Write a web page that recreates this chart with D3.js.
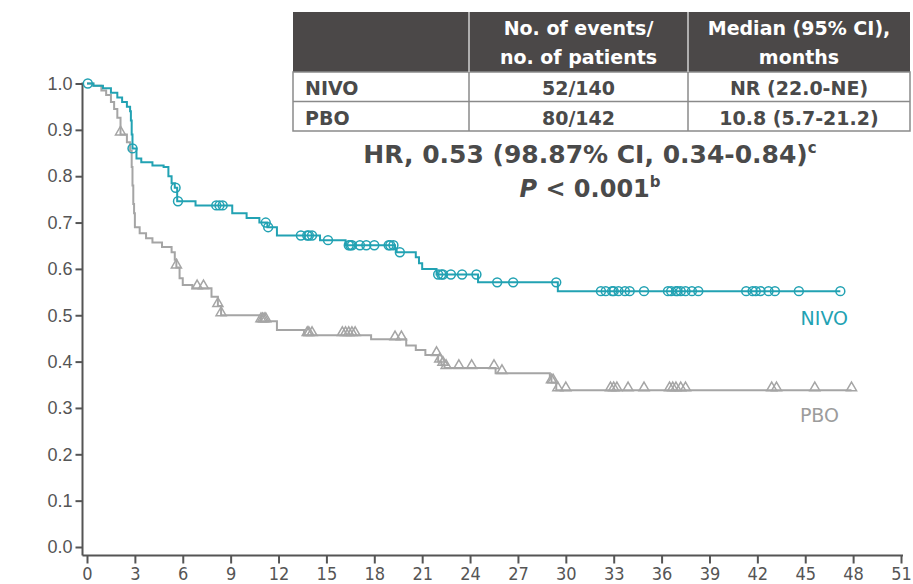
<!DOCTYPE html>
<html>
<head>
<meta charset="utf-8">
<script src="https://cdn.jsdelivr.net/npm/d3@7"></script>
<style>
  body { margin: 0; background: #fff; }
  svg { display: block; font-family: "DejaVu Sans", sans-serif; }
  .x-tick text { font-family: "DejaVu Sans Condensed", "DejaVu Sans", sans-serif; font-stretch: condensed; }
</style>
</head>
<body>
<svg id="chart" width="913" height="584"></svg>
<script>
// Kaplan-Meier steps: [month, survival after the drop]
var nivoSteps = [[0,1.0],[0.4,0.995],[1.0,0.99],[1.5,0.98],[1.9,0.97],[2.2,0.96],[2.5,0.95],
  [2.7,0.94],[2.75,0.92],[2.8,0.89],[2.85,0.86],[3.1,0.838],[3.4,0.83],[4.1,0.823],[4.8,0.82],
  [5.1,0.80],[5.3,0.785],[5.5,0.775],[5.65,0.746],[6.8,0.737],[9.1,0.72],[10.0,0.71],[10.8,0.70],
  [11.3,0.69],[11.9,0.672],[14.6,0.662],[16.2,0.651],[19.3,0.644],[19.4,0.636],[20.6,0.625],
  [20.8,0.612],[21.0,0.60],[21.9,0.588],[24.5,0.571],[29.5,0.552]];
var nivoCensor = [0.05,2.85,5.55,5.7,8.1,8.3,8.5,11.2,11.35,13.4,13.8,13.9,14.1,15.1,16.4,16.5,16.6,
  17.1,17.5,18.0,18.9,19.0,19.2,19.6,22.0,22.2,22.3,22.8,23.5,24.4,25.7,26.7,29.4,
  32.2,32.5,32.9,33.0,33.3,33.7,34.0,34.9,36.4,36.6,36.9,37.0,37.2,37.5,37.9,38.3,
  41.3,41.7,41.9,42.2,42.7,43.1,44.6,47.2];
var nivoEnd = 47.2;

var pboSteps = [[0,1.0],[0.4,0.995],[0.9,0.985],[1.2,0.975],[1.5,0.96],[1.7,0.945],[1.9,0.926],
  [2.1,0.89],[2.5,0.873],[2.7,0.855],[2.8,0.82],[2.85,0.78],[2.9,0.74],[2.95,0.72],[3.0,0.69],
  [3.3,0.677],[3.7,0.666],[4.1,0.657],[4.7,0.647],[5.3,0.636],[5.5,0.62],[5.6,0.603],[5.8,0.58],
  [6.0,0.565],[6.6,0.558],[7.8,0.54],[8.2,0.52],[8.4,0.50],[10.9,0.487],[11.9,0.468],[13.6,0.457],
  [17.8,0.448],[20.0,0.435],[20.6,0.425],[21.2,0.414],[22.0,0.40],[22.2,0.393],[22.4,0.386],
  [25.6,0.375],[29.0,0.366],[29.1,0.355],[29.4,0.338]];
var pboCensor = [2.1,5.6,6.9,7.3,8.2,8.4,10.9,11.0,11.1,11.2,13.8,13.9,14.1,16.0,16.2,16.4,16.6,16.8,
  19.3,19.7,21.9,22.1,22.3,22.5,23.3,24.1,25.5,26.0,29.1,29.2,29.5,30.0,32.8,33.0,33.2,33.9,34.9,
  36.5,36.7,36.9,37.2,37.5,42.9,43.2,45.6,47.9];
var pboEnd = 47.9;

var xTicks = [0,3,6,9,12,15,18,21,24,27,30,33,36,39,42,45,48,51];
var yTicks = [0,0.1,0.2,0.3,0.4,0.5,0.6,0.7,0.8,0.9,1.0];

var tableHead = [["", ""], ["No. of events/", "no. of patients"], ["Median (95% CI),", "months"]];
var tableRows = [["NIVO", "52/140", "NR (22.0-NE)"], ["PBO", "80/142", "10.8 (5.7-21.2)"]];

var nivoColor = '#22a2b3';
var pboColor = '#a5a5a5';
var axisColor = '#555';

var svg = d3.select('#chart');

var x = d3.scaleLinear().domain([0, 51]).range([87, 901]);
var y = d3.scaleLinear().domain([0, 1]).range([547, 83.5]);

// axes
var yAxisX = 82.5, xAxisY = 555.5;

var yAxis = svg.append('g')
  .attr('transform', `translate(${yAxisX},0)`)
  .call(d3.axisLeft(y).tickValues(yTicks).tickFormat(d3.format('.1f')).tickSize(7).tickPadding(3));
yAxis.select('.domain').attr('d', `M0,${y(1) - 1}V${xAxisY}`);

var xAxis = svg.append('g')
  .attr('class', 'x-tick')
  .attr('transform', `translate(0,${xAxisY})`)
  .call(d3.axisBottom(x).tickValues(xTicks).tickSize(8).tickPadding(4));
xAxis.select('.domain').attr('d', `M${yAxisX},0H${x(51) + 2}`);

svg.selectAll('.domain, .tick line').attr('stroke', axisColor).attr('stroke-width', 2);
yAxis.selectAll('.tick text').attr('fill', axisColor).attr('font-size', 18)
  .attr('font-family', null);
xAxis.selectAll('.tick text').attr('fill', axisColor).attr('font-size', 18)
  .attr('font-family', null);

// survival at time t from a step list
function survivalAt(steps, t) {
  var s = steps[0][1];
  steps.forEach(function(d) { if (d[0] <= t) s = d[1]; });
  return s;
}

function drawArm(steps, end, censor, color, mark) {
  var pts = steps.concat([[end, steps[steps.length - 1][1]]]);
  var line = d3.line()
    .x(function(d) { return x(d[0]); })
    .y(function(d) { return y(d[1]); })
    .curve(d3.curveStepAfter);

  var g = svg.append('g');
  g.append('path')
    .attr('d', line(pts))
    .attr('fill', 'none')
    .attr('stroke', color)
    .attr('stroke-width', 2);

  var sym = d3.symbol().type(mark === 'circle' ? d3.symbolCircle : d3.symbolTriangle)
    .size(mark === 'circle' ? 62 : 44);

  g.selectAll('.censor')
    .data(censor)
    .enter()
    .append('path')
    .attr('class', 'censor')
    .attr('transform', function(d) {
      var off = mark === 'circle' ? 0 : -2.5;
      return `translate(${x(d)},${y(survivalAt(steps, d)) + off})`;
    })
    .attr('d', sym)
    .attr('fill', 'none')
    .attr('stroke', color)
    .attr('stroke-width', 1.5);
}

drawArm(pboSteps, pboEnd, pboCensor, pboColor, 'triangle');
drawArm(nivoSteps, nivoEnd, nivoCensor, nivoColor, 'circle');

// arm labels
svg.append('text')
  .attr('x', 848).attr('y', 325)
  .attr('text-anchor', 'end')
  .attr('font-size', 19)
  .attr('fill', nivoColor)
  .text('NIVO');

svg.append('text')
  .attr('x', 839).attr('y', 422)
  .attr('text-anchor', 'end')
  .attr('font-size', 19)
  .attr('fill', '#9c9c9c')
  .text('PBO');

// summary table
var colEdges = [293, 469, 688, 910];
var rowEdges = [12, 72, 101.5, 131];
var tbl = svg.append('g').attr('font-weight', 'bold').attr('font-size', 19);

tbl.append('rect')
  .attr('x', colEdges[0]).attr('y', rowEdges[0])
  .attr('width', colEdges[3] - colEdges[0]).attr('height', rowEdges[1] - rowEdges[0])
  .attr('fill', '#4b4848');

tbl.append('rect')
  .attr('x', colEdges[0]).attr('y', rowEdges[1])
  .attr('width', colEdges[3] - colEdges[0]).attr('height', rowEdges[3] - rowEdges[1])
  .attr('fill', '#fff')
  .attr('stroke', '#8a8a8a').attr('stroke-width', 1.5);

[1, 2].forEach(function(c) {
  tbl.append('line')
    .attr('x1', colEdges[c]).attr('x2', colEdges[c])
    .attr('y1', rowEdges[0]).attr('y2', rowEdges[1])
    .attr('stroke', '#d0d0d0').attr('stroke-width', 1.5);
  tbl.append('line')
    .attr('x1', colEdges[c]).attr('x2', colEdges[c])
    .attr('y1', rowEdges[1]).attr('y2', rowEdges[3])
    .attr('stroke', '#8a8a8a').attr('stroke-width', 1.5);
});
tbl.append('line')
  .attr('x1', colEdges[0]).attr('x2', colEdges[3])
  .attr('y1', rowEdges[2]).attr('y2', rowEdges[2])
  .attr('stroke', '#8a8a8a').attr('stroke-width', 1.5);

tableHead.forEach(function(lines, c) {
  lines.forEach(function(t, k) {
    tbl.append('text')
      .attr('x', (colEdges[c] + colEdges[c + 1]) / 2)
      .attr('y', 35 + k * 29)
      .attr('text-anchor', 'middle')
      .attr('fill', '#fff')
      .text(t);
  });
});

tableRows.forEach(function(row, r) {
  row.forEach(function(t, c) {
    tbl.append('text')
      .attr('x', c === 0 ? colEdges[0] + 12 : (colEdges[c] + colEdges[c + 1]) / 2)
      .attr('y', rowEdges[r + 1] + 23)
      .attr('text-anchor', c === 0 ? 'start' : 'middle')
      .attr('fill', '#4a4a4a')
      .text(t);
  });
});

// hazard ratio + p value
var hr = svg.append('text')
  .attr('x', 590).attr('y', 163)
  .attr('text-anchor', 'middle')
  .attr('font-size', 25).attr('font-weight', 'bold')
  .attr('fill', '#4a4a4a');
hr.append('tspan').text('HR, 0.53 (98.87% CI, 0.34-0.84)');
hr.append('tspan').attr('font-size', 15).attr('dy', -10).text('c');

var pv = svg.append('text')
  .attr('x', 590).attr('y', 197)
  .attr('text-anchor', 'middle')
  .attr('font-size', 24).attr('font-weight', 'bold')
  .attr('fill', '#4a4a4a');
pv.append('tspan').attr('font-style', 'italic').text('P');
pv.append('tspan').text(' < 0.001');
pv.append('tspan').attr('font-size', 15).attr('dy', -10).text('b');
</script>
</body>
</html>
